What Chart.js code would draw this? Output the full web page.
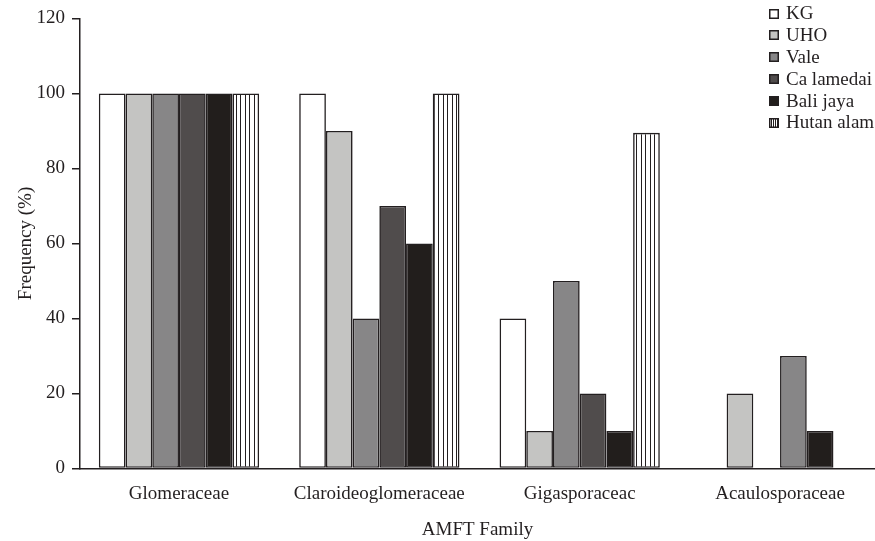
<!DOCTYPE html>
<html><head><meta charset="utf-8">
<script src="https://cdn.jsdelivr.net/npm/chart.js@4"></script>
<style>html,body{margin:0;padding:0;background:#fff;overflow:hidden}#wrap{width:875px;height:541px;position:relative}</style>
</head><body><div id="wrap"><canvas id="c"></canvas></div>
<script>
// ---- data ----
const categories = ['Glomeraceae', 'Claroideoglomeraceae', 'Gigasporaceac', 'Acaulosporaceae'];
const seriesNames = ['KG', 'UHO', 'Vale', 'Ca lamedai', 'Bali jaya', 'Hutan alam'];
const kg        = [100, 100, 40, 0];
const uho       = [100, 90, 10, 20];
const vale      = [100, 40, 50, 0];
const caLamedai = [100, 70, 20, 30];
const baliJaya  = [100, 60, 10, 10];
const hutanAlam = [100, 100, 89.5, 0];
const yTicks = [0, 20, 40, 60, 80, 100, 120];

// ---- styles ----
const INK = '#231f20';
const FONT = 'Liberation Serif, Times New Roman, serif';
const C_KG = '#ffffff', C_UHO = '#c4c4c2', C_VALE = '#878687', C_CA = '#504c4c', C_BALI = '#221e1c';

function stripePattern() {
  const t = document.createElement('canvas');
  t.width = 9; t.height = 4;
  const g = t.getContext('2d');
  g.fillStyle = '#ffffff'; g.fillRect(0, 0, 9, 4);
  g.fillStyle = INK;
  g.fillRect(2, 0, 1, 4);
  g.fillRect(6, 0, 1, 4);
  return g.createPattern(t, 'repeat');
}
const STRIPES = stripePattern();

const toPts = arr => arr.map((v, i) => ({x: i, y: v}));
const seriesValues = [kg, uho, vale, caLamedai, baliJaya, hutanAlam];
const fills = [C_KG, C_UHO, C_VALE, [C_CA, C_CA, C_CA, C_VALE], C_BALI, STRIPES];
const legendFills = [C_KG, C_UHO, C_VALE, C_CA, C_BALI, 'stripes'];

const datasets = seriesNames.map((name, k) => ({
  label: name,
  data: toPts(seriesValues[k]),
  backgroundColor: fills[k],
  borderColor: INK,
  borderWidth: 1.6,
  borderSkipped: false,
  categoryPercentage: 0.8,
  barPercentage: 1.0,
  legendFill: legendFills[k]
}));

const legendPlugin = {
  id: 'customLegend',
  afterDraw(chart) {
    const ctx = chart.ctx;
    ctx.save();
    ctx.font = '19px ' + FONT;
    ctx.textBaseline = 'middle';
    ctx.textAlign = 'left';
    chart.data.datasets.forEach((ds, i) => {
      const cy = 13 + i * 21.9;
      const bx = 769, by = Math.round(cy - 4.5), s = 10;
      if (ds.legendFill === 'stripes') {
        ctx.fillStyle = '#fff'; ctx.fillRect(bx, by, s, s);
        ctx.fillStyle = INK;
        for (let xx = bx + 2; xx < bx + s - 1; xx += 2) ctx.fillRect(xx, by, 1, s);
      } else {
        ctx.fillStyle = ds.legendFill; ctx.fillRect(bx, by, s, s);
      }
      ctx.strokeStyle = INK; ctx.lineWidth = 1.5;
      ctx.strokeRect(bx + 0.75, by + 0.75, s - 1.5, s - 1.5);
      ctx.fillStyle = INK;
      ctx.fillText(ds.label, 786, cy + 1);
    });
    ctx.restore();
  }
};

new Chart(document.getElementById('c'), {
  type: 'bar',
  data: { datasets },
  plugins: [legendPlugin],
  options: {
    responsive: true,
    maintainAspectRatio: false,
    animation: false,
    layout: { padding: { top: 13, right: 0, left: 0, bottom: 0 } },
    plugins: { legend: { display: false }, tooltip: { enabled: false } },
    scales: {
      x: {
        type: 'linear',
        offset: false,
        bounds: 'data',
        min: -0.494,
        max: 3.474,
        afterBuildTicks: s => { s.ticks = categories.map((_, i) => ({value: i})); },
        afterFit: s => { s.height = 72.5; },
        grid: { display: false, offset: false },
        border: { display: true, color: INK, width: 1.5 },
        ticks: {
          autoSkip: false, maxRotation: 0, includeBounds: false,
          callback: v => categories[v],
          color: INK, font: { family: FONT, size: 19 }, padding: 6
        },
        title: { display: true, text: 'AMFT Family', color: INK,
                 font: { family: FONT, size: 19 }, padding: { top: 0, bottom: 0 } }
      },
      y: {
        min: 0, max: 120,
        afterBuildTicks: s => { s.ticks = yTicks.map(v => ({value: v})); },
        afterFit: s => { s.width = 80; },
        grid: { drawOnChartArea: false, drawTicks: true, tickLength: 8, color: INK, lineWidth: 1.5 },
        border: { display: true, color: INK, width: 1.5 },
        ticks: { color: INK, font: { family: FONT, size: 19 }, padding: 7 },
        title: { display: true, text: 'Frequency (%)', color: INK,
                 font: { family: FONT, size: 19 }, padding: { top: 15, bottom: 0 } }
      }
    }
  }
});
</script>
</body></html>
